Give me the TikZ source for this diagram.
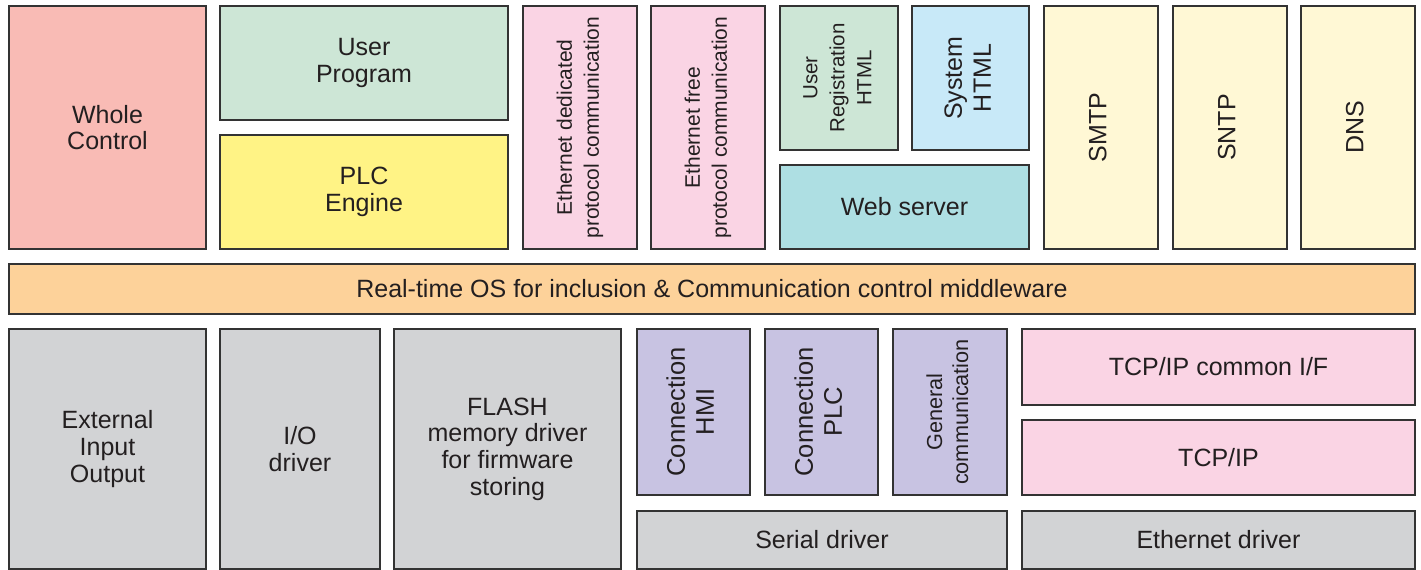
\documentclass[tikz,border=0pt]{standalone}
\usepackage{fontspec}
\setmainfont{Liberation Sans}
\definecolor{txt}{HTML}{231F20}
\definecolor{edge}{HTML}{333333}
\definecolor{cSalmon}{HTML}{F9BBB5}
\definecolor{cGreen}{HTML}{CDE6D6}
\definecolor{cYellow}{HTML}{FFF385}
\definecolor{cPink}{HTML}{FAD4E4}
\definecolor{cBlue}{HTML}{C8E9F8}
\definecolor{cTeal}{HTML}{AEDFE3}
\definecolor{cCream}{HTML}{FFF8D5}
\definecolor{cOrange}{HTML}{FDD29A}
\definecolor{cGray}{HTML}{D2D3D5}
\definecolor{cPurple}{HTML}{C8C3E2}
\newcommand\vtext[1]{\rotatebox{90}{\begin{tabular}{@{}c@{}}#1\end{tabular}}}
\begin{document}
\begin{tikzpicture}[x=1pt,y=-1pt,
  blk/.style={draw=edge, line width=2pt, rectangle, anchor=north west, inner sep=0pt,
    align=center, text=txt, font=\fontsize{25}{26.7}\selectfont},
]
\fill[white] (0,0) rectangle (1421,570);
\useasboundingbox (0,0) rectangle (1421,570);
% top layer
\node[blk, fill=cSalmon, minimum width=197pt, minimum height=243pt] (whole) at (8,5) {Whole\\Control};
\node[blk, fill=cGreen, minimum width=288pt, minimum height=114pt] (userprog) at (219,5) {User\\Program};
\node[blk, fill=cYellow, minimum width=288pt, minimum height=114pt] (plc) at (219,134) {PLC\\Engine};
\node[blk, fill=cPink, minimum width=114pt, minimum height=243pt, font=\fontsize{21}{27}\selectfont] (ethded) at (522,5) {\vtext{Ethernet dedicated\\protocol communication}};
\node[blk, fill=cPink, minimum width=114pt, minimum height=243pt, font=\fontsize{21}{27}\selectfont] (ethfree) at (650,5) {\vtext{Ethernet free\\protocol communication}};
\node[blk, fill=cGreen, minimum width=118pt, minimum height=144pt, font=\fontsize{20.5}{27}\selectfont] (userreg) at (779,5) {\vtext{User\\Registration\\HTML}};
\node[blk, fill=cBlue, minimum width=117pt, minimum height=144pt, font=\fontsize{25}{29}\selectfont] (syshtml) at (911,5) {\vtext{System\\HTML}};
\node[blk, fill=cTeal, minimum width=249pt, minimum height=84pt] (web) at (779,164) {Web server};
\node[blk, fill=cCream, minimum width=114pt, minimum height=243pt] (smtp) at (1043,5) {\vtext{SMTP}};
\node[blk, fill=cCream, minimum width=114pt, minimum height=243pt] (sntp) at (1172,5) {\vtext{SNTP}};
\node[blk, fill=cCream, minimum width=114pt, minimum height=243pt] (dns) at (1300,5) {\vtext{DNS}};
% middleware
\node[blk, fill=cOrange, minimum width=1406pt, minimum height=50pt] (rtos) at (8,263) {Real-time OS for inclusion \& Communication control middleware};
% bottom layer
\node[blk, fill=cGray, minimum width=197pt, minimum height=240pt] (ext) at (8,328) {External\\Input\\Output};
\node[blk, fill=cGray, minimum width=160pt, minimum height=240pt] (io) at (219,328) {I/O\\driver};
\node[blk, fill=cGray, minimum width=227pt, minimum height=240pt] (flash) at (393,328) {FLASH\\memory driver\\for firmware\\storing};
\node[blk, fill=cPurple, minimum width=113pt, minimum height=166pt, font=\fontsize{25.5}{29}\selectfont] (hmi) at (636,328) {\vtext{Connection\\HMI}};
\node[blk, fill=cPurple, minimum width=113pt, minimum height=166pt, font=\fontsize{25.5}{29}\selectfont] (cplc) at (764,328) {\vtext{Connection\\PLC}};
\node[blk, fill=cPurple, minimum width=114pt, minimum height=166pt, font=\fontsize{21.7}{26}\selectfont] (gen) at (892,328) {\vtext{General\\communication}};
\node[blk, fill=cGray, minimum width=370pt, minimum height=58pt] (serial) at (636,510) {Serial driver};
\node[blk, fill=cPink, minimum width=393pt, minimum height=76pt] (tcpif) at (1021,328) {TCP/IP common I/F};
\node[blk, fill=cPink, minimum width=393pt, minimum height=75pt] (tcp) at (1021,419) {TCP/IP};
\node[blk, fill=cGray, minimum width=393pt, minimum height=58pt] (eth) at (1021,510) {Ethernet driver};
\end{tikzpicture}
\end{document}
